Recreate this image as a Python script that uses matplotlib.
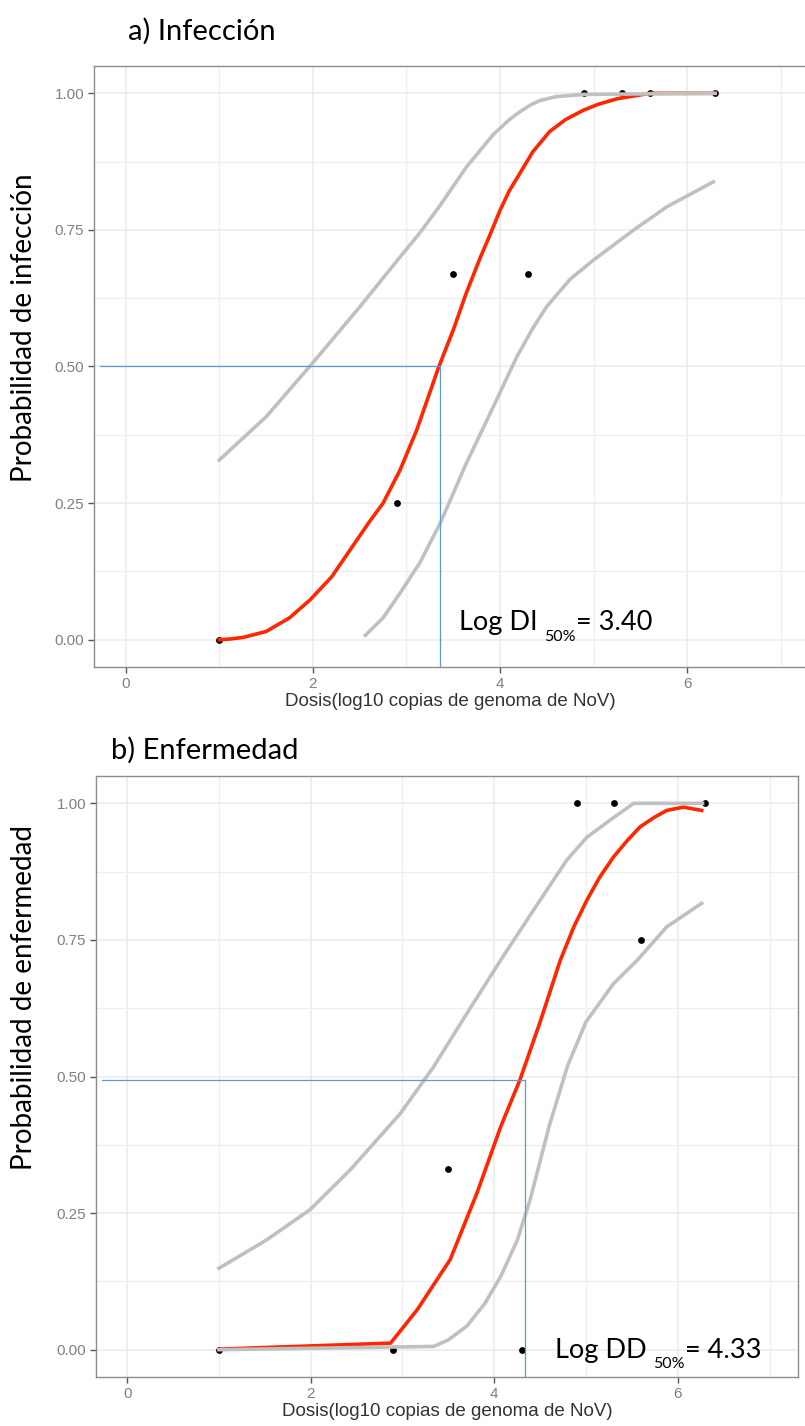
import matplotlib
matplotlib.use("Agg")
import matplotlib.pyplot as plt
from matplotlib.ticker import MultipleLocator, FormatStrFormatter

# a) Infeccion: observed points and fitted curves (log10 dose, probability)
inf_dose = [1.0, 2.9, 3.5, 4.3, 4.9, 5.3, 5.6, 6.3]
inf_prob = [0.0, 0.25, 0.67, 0.67, 1.0, 1.0, 1.0, 1.0]

inf_fit_x = [1.0, 1.1, 1.25, 1.5, 1.75, 1.97, 2.2, 2.4, 2.6, 2.75, 2.93, 3.11, 3.34, 3.5, 3.64, 3.79,
             3.89, 4.0, 4.1, 4.21, 4.35, 4.53, 4.7, 4.89, 5.05, 5.25, 5.6, 6.3]
inf_fit_y = [0.0, 0.001, 0.004, 0.015, 0.04, 0.073, 0.115, 0.165, 0.215, 0.25, 0.31, 0.384, 0.497, 0.567, 0.635, 0.70,
             0.74, 0.786, 0.822, 0.853, 0.893, 0.93, 0.952, 0.969, 0.98, 0.99, 1.0, 1.0]

inf_up_x = [1.0, 1.5, 2.0, 2.5, 2.93, 3.14, 3.36, 3.64, 3.93, 4.1, 4.21, 4.33, 4.43, 4.6, 4.89, 6.3]
inf_up_y = [0.329, 0.408, 0.507, 0.609, 0.70, 0.744, 0.795, 0.865, 0.925, 0.952, 0.966, 0.979, 0.987, 0.994, 0.998, 1.0]

inf_lo_x = [2.56, 2.75, 2.93, 3.14, 3.36, 3.64, 3.93, 4.18, 4.35, 4.5, 4.75, 5.0, 5.43, 5.78, 6.28]
inf_lo_y = [0.008, 0.04, 0.085, 0.14, 0.213, 0.323, 0.427, 0.518, 0.57, 0.61, 0.66, 0.695, 0.75, 0.792, 0.838]

inf_d50 = 3.36
inf_label = ("Log DI ", "50%", "= 3.40")

# b) Enfermedad
enf_dose = [1.0, 2.9, 3.5, 4.3, 4.9, 5.3, 5.6, 6.3]
enf_prob = [0.0, 0.0, 0.33, 0.0, 1.0, 1.0, 0.75, 1.0]

enf_fit_x = [1.0, 2.87, 3.16, 3.52, 3.81, 4.07, 4.28, 4.5, 4.72, 4.87, 5.01, 5.15, 5.30, 5.45, 5.59, 5.75,
             5.88, 6.06, 6.26]
enf_fit_y = [0.001, 0.012, 0.073, 0.165, 0.286, 0.408, 0.494, 0.6, 0.713, 0.775, 0.823, 0.865, 0.902, 0.932, 0.957, 0.975,
             0.987, 0.993, 0.987]

enf_up_x = [1.0, 1.52, 1.99, 2.43, 2.98, 3.34, 3.70, 4.07, 4.41, 4.79, 5.01, 5.26, 5.52, 6.27]
enf_up_y = [0.149, 0.201, 0.256, 0.329, 0.433, 0.518, 0.615, 0.713, 0.80, 0.896, 0.938, 0.969, 1.0, 1.0]

enf_lo_x = [1.0, 3.34, 3.5, 3.70, 3.9, 4.07, 4.25, 4.39, 4.6, 4.8, 5.0, 5.3, 5.56, 5.88, 6.26]
enf_lo_y = [0.0, 0.006, 0.018, 0.043, 0.085, 0.134, 0.2, 0.274, 0.41, 0.52, 0.6, 0.67, 0.713, 0.774, 0.817]

enf_d50 = 4.34
enf_label = ("Log DD ", "50%", "= 4.33")

W, H = 805, 1426
CAL = "Lato"
ARIAL = "Liberation Sans"

fig = plt.figure(figsize=(W / 100, H / 100), dpi=100)


def px_axes(left, top, right, bottom):
    return fig.add_axes([left / W, 1 - bottom / H, (right - left) / W, (bottom - top) / H])


def style_axes(ax, xlim):
    ax.set_xlim(*xlim)
    ax.set_ylim(-0.05, 1.05)
    ax.xaxis.set_major_locator(MultipleLocator(2))
    ax.xaxis.set_minor_locator(MultipleLocator(1))
    ax.yaxis.set_major_locator(MultipleLocator(0.25))
    ax.yaxis.set_minor_locator(MultipleLocator(0.125))
    ax.yaxis.set_major_formatter(FormatStrFormatter('%.2f'))
    ax.grid(which='major', color='#ebebeb', lw=1.1)
    ax.grid(which='minor', color='#efefef', lw=0.9)
    ax.set_axisbelow(True)
    ax.tick_params(which='minor', length=0)
    ax.tick_params(which='major', length=4, width=1, color='#555555',
                   labelcolor='#808080', labelsize=11, pad=3)
    for lab in ax.get_xticklabels() + ax.get_yticklabels():
        lab.set_fontfamily(ARIAL)
    for s in ax.spines.values():
        s.set_color('#8c8c8c')
        s.set_linewidth(1)
    ax.set_xlabel("Dosis(log10 copias de genoma de NoV)", fontsize=13.5,
                  family=ARIAL, color='#333333', labelpad=2)


def draw_panel(ax, dose, prob, fx, fy, ux, uy, lx, ly, d50, y50, label, lab_x, base_y, sub_y):
    ax.scatter(dose, prob, s=24, color='black', zorder=3, linewidths=0)
    ax.plot(fx, fy, color='#ff2600', lw=2.6, zorder=4, solid_joinstyle='round')
    ax.plot(ux, uy, color='#c0c0c0', lw=2.6, zorder=5, solid_joinstyle='round')
    ax.plot(lx, ly, color='#c0c0c0', lw=2.6, zorder=5, solid_joinstyle='round')
    x0 = -0.28
    ax.plot([x0, d50], [y50, y50], color='#5b9bd5', lw=0.9, zorder=6)
    ax.plot([d50, d50], [y50, -0.05], color='#5b9bd5', lw=0.9, zorder=6)
    t1 = ax.text(lab_x, base_y, label[0], fontsize=19.5, family=CAL, va='baseline', ha='left')
    t2 = ax.annotate(label[1], xy=(1, sub_y), xycoords=(t1, 'data'), fontsize=11.5,
                     family=CAL, va='baseline', ha='left')
    ax.annotate(label[2], xy=(1, base_y), xycoords=(t2, 'data'), fontsize=19.5,
                family=CAL, va='baseline', ha='left')


ax1 = px_axes(94, 66, 806, 667)
style_axes(ax1, (-0.34, 7.27))
draw_panel(ax1, inf_dose, inf_prob, inf_fit_x, inf_fit_y, inf_up_x, inf_up_y,
           inf_lo_x, inf_lo_y, inf_d50, 0.5, inf_label, 3.56, 0.017, -0.002)

ax2 = px_axes(96, 776, 798, 1377)
style_axes(ax2, (-0.34, 7.31))
draw_panel(ax2, enf_dose, enf_prob, enf_fit_x, enf_fit_y, enf_up_x, enf_up_y,
           enf_lo_x, enf_lo_y, enf_d50, 0.494, enf_label, 4.66, -0.015, -0.033)

# panel titles and y labels
fig.text(128 / W, 1 - 40 / H, "a) Infección", fontsize=21, family=CAL, va='baseline', ha='left')
fig.text(111 / W, 1 - 759 / H, "b) Enfermedad", fontsize=21, family=CAL, va='baseline', ha='left')
fig.text(24 / W, 1 - 173 / H, "Probabilidad de infección", fontsize=20, family=CAL,
         rotation=90, ha='center', va='top')
fig.text(24 / W, 1 - 825 / H, "Probabilidad de enfermedad", fontsize=20, family=CAL,
         rotation=90, ha='center', va='top')

fig.savefig("out.png", dpi=100)
